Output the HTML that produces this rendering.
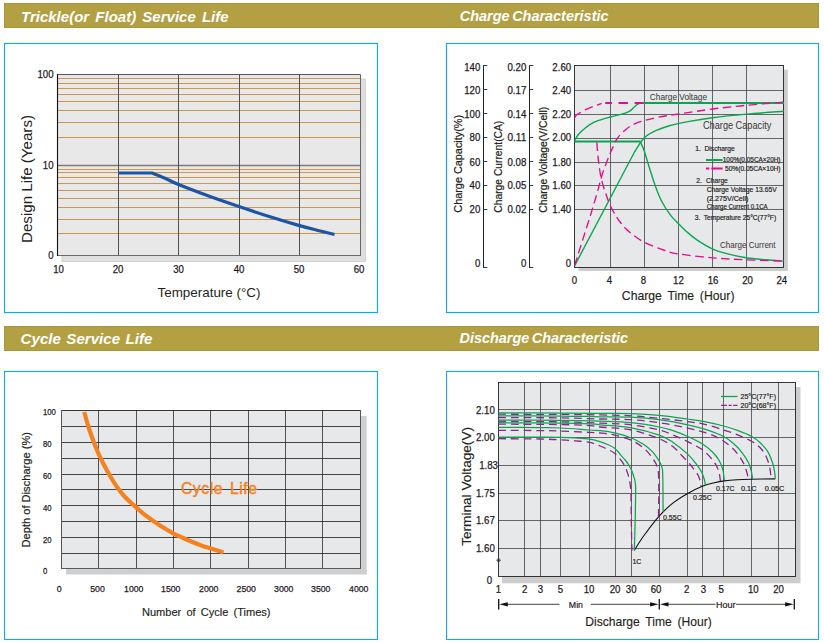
<!DOCTYPE html>
<html><head><meta charset="utf-8"><title>Battery characteristics</title>
<style>
html,body{margin:0;padding:0;background:#fff;}
body{width:824px;height:643px;overflow:hidden;font-family:"Liberation Sans",sans-serif;}
svg{display:block}
svg text{font-family:"Liberation Sans",sans-serif;}
</style></head><body>
<svg width="824" height="643" viewBox="0 0 824 643">
<rect x="4.50" y="3.50" width="814.00" height="24.00" fill="#b3a043" stroke="#a8963a" stroke-width="1"/>
<rect x="4.50" y="326.50" width="814.00" height="24.00" fill="#b3a043" stroke="#a8963a" stroke-width="1"/>
<text x="21.00" y="21.94" font-size="15.2" fill="#fff" textLength="207.60" lengthAdjust="spacingAndGlyphs" font-weight="bold" font-style="italic" word-spacing="2">Trickle(or Float) Service Life</text>
<text x="459.80" y="20.74" font-size="15.2" fill="#fff" textLength="148.70" lengthAdjust="spacingAndGlyphs" font-weight="bold" font-style="italic" word-spacing="-1.5">Charge Characteristic</text>
<text x="20.60" y="344.14" font-size="15.2" fill="#fff" textLength="131.80" lengthAdjust="spacingAndGlyphs" font-weight="bold" font-style="italic" word-spacing="1.2">Cycle Service Life</text>
<text x="459.50" y="343.34" font-size="15.2" fill="#fff" textLength="168.50" lengthAdjust="spacingAndGlyphs" font-weight="bold" font-style="italic" word-spacing="-1.5">Discharge Characteristic</text>
<rect x="4.50" y="43.50" width="373.00" height="269.00" fill="none" stroke="#08adee" stroke-width="1.15"/>
<rect x="446.50" y="43.50" width="372.00" height="269.00" fill="none" stroke="#08adee" stroke-width="1.15"/>
<rect x="4.50" y="371.50" width="373.00" height="268.00" fill="none" stroke="#08adee" stroke-width="1.1"/>
<rect x="446.50" y="371.50" width="372.00" height="268.00" fill="none" stroke="#08adee" stroke-width="1.1"/>
<rect x="62.00" y="79.00" width="303.60" height="182.50" fill="#dfdfdf" stroke="#c6c6c6" stroke-width="0.7"/>
<rect x="57.50" y="74.50" width="303.00" height="181.00" fill="#e8e8e8"/>
<line x1="57.50" y1="78.50" x2="360.50" y2="78.50" stroke="#c98f3a" stroke-width="0.9"/>
<line x1="57.50" y1="83.50" x2="360.50" y2="83.50" stroke="#c98f3a" stroke-width="0.9"/>
<line x1="57.50" y1="88.50" x2="360.50" y2="88.50" stroke="#c98f3a" stroke-width="0.9"/>
<line x1="57.50" y1="94.50" x2="360.50" y2="94.50" stroke="#c98f3a" stroke-width="0.9"/>
<line x1="57.50" y1="101.50" x2="360.50" y2="101.50" stroke="#c98f3a" stroke-width="0.9"/>
<line x1="57.50" y1="110.50" x2="360.50" y2="110.50" stroke="#c98f3a" stroke-width="0.9"/>
<line x1="57.50" y1="122.50" x2="360.50" y2="122.50" stroke="#c98f3a" stroke-width="0.9"/>
<line x1="57.50" y1="137.50" x2="360.50" y2="137.50" stroke="#c98f3a" stroke-width="0.9"/>
<line x1="57.50" y1="169.50" x2="360.50" y2="169.50" stroke="#c98f3a" stroke-width="0.9"/>
<line x1="57.50" y1="172.50" x2="360.50" y2="172.50" stroke="#c98f3a" stroke-width="0.9"/>
<line x1="57.50" y1="177.50" x2="360.50" y2="177.50" stroke="#c98f3a" stroke-width="0.9"/>
<line x1="57.50" y1="183.50" x2="360.50" y2="183.50" stroke="#c98f3a" stroke-width="0.9"/>
<line x1="57.50" y1="190.50" x2="360.50" y2="190.50" stroke="#c98f3a" stroke-width="0.9"/>
<line x1="57.50" y1="198.50" x2="360.50" y2="198.50" stroke="#c98f3a" stroke-width="0.9"/>
<line x1="57.50" y1="207.50" x2="360.50" y2="207.50" stroke="#c98f3a" stroke-width="0.9"/>
<line x1="57.50" y1="219.50" x2="360.50" y2="219.50" stroke="#c98f3a" stroke-width="0.9"/>
<line x1="57.50" y1="233.50" x2="360.50" y2="233.50" stroke="#c98f3a" stroke-width="0.9"/>
<line x1="57.50" y1="165.50" x2="360.50" y2="165.50" stroke="#7c7c7c" stroke-width="1.4"/>
<line x1="118.50" y1="74.50" x2="118.50" y2="255.50" stroke="#505050" stroke-width="1.05"/>
<line x1="178.50" y1="74.50" x2="178.50" y2="255.50" stroke="#505050" stroke-width="1.05"/>
<line x1="239.50" y1="74.50" x2="239.50" y2="255.50" stroke="#505050" stroke-width="1.05"/>
<line x1="299.50" y1="74.50" x2="299.50" y2="255.50" stroke="#505050" stroke-width="1.05"/>
<line x1="360.50" y1="74.50" x2="360.50" y2="255.50" stroke="#666" stroke-width="1"/>
<line x1="57.50" y1="74.50" x2="360.50" y2="74.50" stroke="#444" stroke-width="0.9"/>
<line x1="57.00" y1="255.50" x2="361.00" y2="255.50" stroke="#6a6a6a" stroke-width="1.1"/>
<line x1="57.50" y1="74.10" x2="57.50" y2="256.00" stroke="#111" stroke-width="1.1"/>
<path d="M118,173 L151.75,173 C153.96,173.87 160.54,176.27 165.00,178.20 C169.46,180.13 171.33,181.67 178.50,184.60 C185.67,187.53 197.92,192.13 208.00,195.80 C218.08,199.47 228.67,203.10 239.00,206.60 C249.33,210.10 259.92,213.63 270.00,216.80 C280.08,219.97 291.67,223.37 299.50,225.60 C307.33,227.83 311.17,228.72 317.00,230.20 C322.83,231.68 331.58,233.78 334.50,234.50" fill="none" stroke="#1c55a6" stroke-width="3.2" stroke-linejoin="round"/>
<text x="37.45" y="78.32" font-size="10.4" fill="#1d1a1f" textLength="16.05" lengthAdjust="spacingAndGlyphs" stroke="#1d1a1f" stroke-width="0.25">100</text>
<text x="42.80" y="168.92" font-size="10.4" fill="#1d1a1f" textLength="10.70" lengthAdjust="spacingAndGlyphs" stroke="#1d1a1f" stroke-width="0.25">10</text>
<text x="48.15" y="259.22" font-size="10.4" fill="#1d1a1f" stroke="#1d1a1f" stroke-width="0.25" transform="translate(48.15 0) scale(0.925 1) translate(-48.15 0)">0</text>
<text x="53.15" y="273.12" font-size="10.4" fill="#1d1a1f" textLength="10.70" lengthAdjust="spacingAndGlyphs" stroke="#1d1a1f" stroke-width="0.25">10</text>
<text x="112.65" y="273.12" font-size="10.4" fill="#1d1a1f" textLength="10.70" lengthAdjust="spacingAndGlyphs" stroke="#1d1a1f" stroke-width="0.25">20</text>
<text x="173.15" y="273.12" font-size="10.4" fill="#1d1a1f" textLength="10.70" lengthAdjust="spacingAndGlyphs" stroke="#1d1a1f" stroke-width="0.25">30</text>
<text x="233.65" y="273.12" font-size="10.4" fill="#1d1a1f" textLength="10.70" lengthAdjust="spacingAndGlyphs" stroke="#1d1a1f" stroke-width="0.25">40</text>
<text x="293.65" y="273.12" font-size="10.4" fill="#1d1a1f" textLength="10.70" lengthAdjust="spacingAndGlyphs" stroke="#1d1a1f" stroke-width="0.25">50</text>
<text x="353.65" y="273.12" font-size="10.4" fill="#1d1a1f" textLength="10.70" lengthAdjust="spacingAndGlyphs" stroke="#1d1a1f" stroke-width="0.25">60</text>
<text x="157.50" y="296.95" font-size="13" fill="#231f20" textLength="103.00" lengthAdjust="spacingAndGlyphs">Temperature (°C)</text>
<text x="0" y="5.01" font-size="14" fill="#231f20" textLength="128.00" lengthAdjust="spacingAndGlyphs" transform="translate(27.00 243.00) rotate(-90)">Design Life (Years)</text>
<rect x="66.00" y="416.00" width="300.75" height="158.50" fill="#cfcfcf"/>
<rect x="61.50" y="410.50" width="299.00" height="158.00" fill="#e7e8e9"/>
<line x1="98.50" y1="410.50" x2="98.50" y2="568.50" stroke="#4a4a4a" stroke-width="0.95"/>
<line x1="136.50" y1="410.50" x2="136.50" y2="568.50" stroke="#4a4a4a" stroke-width="0.95"/>
<line x1="173.50" y1="410.50" x2="173.50" y2="568.50" stroke="#4a4a4a" stroke-width="0.95"/>
<line x1="210.50" y1="410.50" x2="210.50" y2="568.50" stroke="#4a4a4a" stroke-width="0.95"/>
<line x1="248.50" y1="410.50" x2="248.50" y2="568.50" stroke="#4a4a4a" stroke-width="0.95"/>
<line x1="285.50" y1="410.50" x2="285.50" y2="568.50" stroke="#4a4a4a" stroke-width="0.95"/>
<line x1="322.50" y1="410.50" x2="322.50" y2="568.50" stroke="#4a4a4a" stroke-width="0.95"/>
<line x1="61.50" y1="426.50" x2="360.50" y2="426.50" stroke="#1a1a1a" stroke-width="0.8"/>
<line x1="61.50" y1="442.50" x2="360.50" y2="442.50" stroke="#1a1a1a" stroke-width="0.8"/>
<line x1="61.50" y1="458.50" x2="360.50" y2="458.50" stroke="#1a1a1a" stroke-width="0.8"/>
<line x1="61.50" y1="474.50" x2="360.50" y2="474.50" stroke="#1a1a1a" stroke-width="0.8"/>
<line x1="61.50" y1="489.50" x2="360.50" y2="489.50" stroke="#1a1a1a" stroke-width="0.8"/>
<line x1="61.50" y1="505.50" x2="360.50" y2="505.50" stroke="#1a1a1a" stroke-width="0.8"/>
<line x1="61.50" y1="521.50" x2="360.50" y2="521.50" stroke="#1a1a1a" stroke-width="0.8"/>
<line x1="61.50" y1="537.50" x2="360.50" y2="537.50" stroke="#1a1a1a" stroke-width="0.8"/>
<line x1="61.50" y1="553.50" x2="360.50" y2="553.50" stroke="#1a1a1a" stroke-width="0.8"/>
<line x1="61.50" y1="410.50" x2="360.50" y2="410.50" stroke="#222" stroke-width="0.9"/>
<line x1="61.50" y1="568.50" x2="360.50" y2="568.50" stroke="#5a5a5a" stroke-width="1"/>
<line x1="61.50" y1="410.10" x2="61.50" y2="568.90" stroke="#555" stroke-width="1"/>
<line x1="360.50" y1="410.10" x2="360.50" y2="568.90" stroke="#555" stroke-width="1"/>
<text x="43.00" y="414.72" font-size="9" fill="#1d1a1f" textLength="12.90" lengthAdjust="spacingAndGlyphs" stroke="#1d1a1f" stroke-width="0.25">100</text>
<text x="43.00" y="446.82" font-size="9" fill="#1d1a1f" textLength="8.60" lengthAdjust="spacingAndGlyphs" stroke="#1d1a1f" stroke-width="0.25">80</text>
<text x="43.00" y="478.52" font-size="9" fill="#1d1a1f" textLength="8.60" lengthAdjust="spacingAndGlyphs" stroke="#1d1a1f" stroke-width="0.25">60</text>
<text x="43.00" y="510.82" font-size="9" fill="#1d1a1f" textLength="8.60" lengthAdjust="spacingAndGlyphs" stroke="#1d1a1f" stroke-width="0.25">40</text>
<text x="43.00" y="542.92" font-size="9" fill="#1d1a1f" textLength="8.60" lengthAdjust="spacingAndGlyphs" stroke="#1d1a1f" stroke-width="0.25">20</text>
<text x="43.00" y="574.02" font-size="9" fill="#1d1a1f" stroke="#1d1a1f" stroke-width="0.25" transform="translate(43.00 0) scale(0.859 1) translate(-43.00 0)">0</text>
<text x="56.83" y="592.29" font-size="9.2" fill="#1d1a1f" stroke="#1d1a1f" stroke-width="0.25" transform="translate(56.83 0) scale(0.948 1) translate(-56.83 0)">0</text>
<text x="90.22" y="592.29" font-size="9.2" fill="#1d1a1f" textLength="14.55" lengthAdjust="spacingAndGlyphs" stroke="#1d1a1f" stroke-width="0.25">500</text>
<text x="124.05" y="592.29" font-size="9.2" fill="#1d1a1f" textLength="19.40" lengthAdjust="spacingAndGlyphs" stroke="#1d1a1f" stroke-width="0.25">1000</text>
<text x="161.05" y="592.29" font-size="9.2" fill="#1d1a1f" textLength="19.40" lengthAdjust="spacingAndGlyphs" stroke="#1d1a1f" stroke-width="0.25">1500</text>
<text x="199.05" y="592.29" font-size="9.2" fill="#1d1a1f" textLength="19.40" lengthAdjust="spacingAndGlyphs" stroke="#1d1a1f" stroke-width="0.25">2000</text>
<text x="236.55" y="592.29" font-size="9.2" fill="#1d1a1f" textLength="19.40" lengthAdjust="spacingAndGlyphs" stroke="#1d1a1f" stroke-width="0.25">2500</text>
<text x="274.05" y="592.29" font-size="9.2" fill="#1d1a1f" textLength="19.40" lengthAdjust="spacingAndGlyphs" stroke="#1d1a1f" stroke-width="0.25">3000</text>
<text x="311.05" y="592.29" font-size="9.2" fill="#1d1a1f" textLength="19.40" lengthAdjust="spacingAndGlyphs" stroke="#1d1a1f" stroke-width="0.25">3500</text>
<text x="349.05" y="592.29" font-size="9.2" fill="#1d1a1f" textLength="19.40" lengthAdjust="spacingAndGlyphs" stroke="#1d1a1f" stroke-width="0.25">4000</text>
<text x="142.00" y="615.87" font-size="10.8" fill="#231f20" textLength="128.50" lengthAdjust="spacingAndGlyphs" word-spacing="2" stroke="#231f20" stroke-width="0.15">Number of Cycle (Times)</text>
<text x="0" y="3.87" font-size="10.8" fill="#231f20" textLength="115.50" lengthAdjust="spacingAndGlyphs" stroke="#231f20" stroke-width="0.2" transform="translate(26.30 547.50) rotate(-90)">Depth of Discharge (%)</text>
<text x="181" y="494.4" font-size="15.6" fill="#f58220" stroke="#f58220" stroke-width="0.45" textLength="76" lengthAdjust="spacing" word-spacing="2">Cycle Life</text>
<path d="M84.25,412.00 C84.96,414.50 86.92,422.00 88.50,427.00 C90.08,432.00 92.17,437.75 93.75,442.00 C95.33,446.25 96.54,449.17 98.00,452.50 C99.46,455.83 100.95,458.92 102.50,462.00 C104.05,465.08 105.63,468.00 107.30,471.00 C108.97,474.00 110.63,477.00 112.50,480.00 C114.37,483.00 116.42,486.17 118.50,489.00 C120.58,491.83 122.04,493.92 125.00,497.00 C127.96,500.08 132.92,504.50 136.25,507.50 C139.58,510.50 141.88,512.58 145.00,515.00 C148.12,517.42 151.83,519.83 155.00,522.00 C158.17,524.17 160.96,526.12 164.00,528.00 C167.04,529.88 170.25,531.72 173.25,533.30 C176.25,534.88 179.21,536.22 182.00,537.50 C184.79,538.78 187.00,539.75 190.00,541.00 C193.00,542.25 196.67,543.78 200.00,545.00 C203.33,546.22 206.08,547.05 210.00,548.30 C213.92,549.55 221.25,551.80 223.50,552.50" fill="none" stroke="#f58220" stroke-width="4.2"/>
<rect x="578.50" y="69.50" width="209.30" height="201.50" fill="#cdcdcd"/>
<rect x="574.50" y="65.50" width="209.00" height="202.00" fill="#e7e8e9"/>
<line x1="610.50" y1="65.50" x2="610.50" y2="267.50" stroke="#3a3a3a" stroke-width="0.75"/>
<line x1="644.50" y1="65.50" x2="644.50" y2="267.50" stroke="#3a3a3a" stroke-width="0.75"/>
<line x1="678.50" y1="65.50" x2="678.50" y2="267.50" stroke="#3a3a3a" stroke-width="0.75"/>
<line x1="712.50" y1="65.50" x2="712.50" y2="267.50" stroke="#3a3a3a" stroke-width="0.75"/>
<line x1="746.50" y1="65.50" x2="746.50" y2="267.50" stroke="#3a3a3a" stroke-width="0.75"/>
<line x1="574.50" y1="90.50" x2="783.50" y2="90.50" stroke="#3a3a3a" stroke-width="0.75"/>
<line x1="574.50" y1="114.50" x2="783.50" y2="114.50" stroke="#3a3a3a" stroke-width="0.75"/>
<line x1="574.50" y1="138.50" x2="783.50" y2="138.50" stroke="#3a3a3a" stroke-width="0.75"/>
<line x1="574.50" y1="162.50" x2="783.50" y2="162.50" stroke="#3a3a3a" stroke-width="0.75"/>
<line x1="574.50" y1="185.50" x2="783.50" y2="185.50" stroke="#3a3a3a" stroke-width="0.75"/>
<line x1="574.50" y1="209.50" x2="783.50" y2="209.50" stroke="#3a3a3a" stroke-width="0.75"/>
<rect x="574.50" y="65.50" width="209.00" height="202.00" fill="none" stroke="#222" stroke-width="0.9"/>
<line x1="483.50" y1="65.10" x2="483.50" y2="267.90" stroke="#222" stroke-width="1"/>
<line x1="483.50" y1="65.50" x2="487.30" y2="65.50" stroke="#222" stroke-width="0.9"/>
<line x1="483.50" y1="89.50" x2="487.30" y2="89.50" stroke="#222" stroke-width="0.9"/>
<line x1="483.50" y1="113.50" x2="487.30" y2="113.50" stroke="#222" stroke-width="0.9"/>
<line x1="483.50" y1="137.50" x2="487.30" y2="137.50" stroke="#222" stroke-width="0.9"/>
<line x1="483.50" y1="161.50" x2="487.30" y2="161.50" stroke="#222" stroke-width="0.9"/>
<line x1="483.50" y1="185.50" x2="487.30" y2="185.50" stroke="#222" stroke-width="0.9"/>
<line x1="483.50" y1="209.50" x2="487.30" y2="209.50" stroke="#222" stroke-width="0.9"/>
<line x1="483.50" y1="267.50" x2="487.30" y2="267.50" stroke="#222" stroke-width="0.9"/>
<line x1="529.50" y1="65.10" x2="529.50" y2="267.90" stroke="#222" stroke-width="1"/>
<line x1="529.50" y1="65.50" x2="533.30" y2="65.50" stroke="#222" stroke-width="0.9"/>
<line x1="529.50" y1="89.50" x2="533.30" y2="89.50" stroke="#222" stroke-width="0.9"/>
<line x1="529.50" y1="113.50" x2="533.30" y2="113.50" stroke="#222" stroke-width="0.9"/>
<line x1="529.50" y1="137.50" x2="533.30" y2="137.50" stroke="#222" stroke-width="0.9"/>
<line x1="529.50" y1="161.50" x2="533.30" y2="161.50" stroke="#222" stroke-width="0.9"/>
<line x1="529.50" y1="185.50" x2="533.30" y2="185.50" stroke="#222" stroke-width="0.9"/>
<line x1="529.50" y1="209.50" x2="533.30" y2="209.50" stroke="#222" stroke-width="0.9"/>
<line x1="529.50" y1="267.50" x2="533.30" y2="267.50" stroke="#222" stroke-width="0.9"/>
<text x="464.25" y="71.22" font-size="10.4" fill="#1d1a1f" textLength="16.05" lengthAdjust="spacingAndGlyphs" stroke="#1d1a1f" stroke-width="0.25">140</text>
<text x="464.25" y="93.92" font-size="10.4" fill="#1d1a1f" textLength="16.05" lengthAdjust="spacingAndGlyphs" stroke="#1d1a1f" stroke-width="0.25">120</text>
<text x="464.25" y="118.02" font-size="10.4" fill="#1d1a1f" textLength="16.05" lengthAdjust="spacingAndGlyphs" stroke="#1d1a1f" stroke-width="0.25">100</text>
<text x="469.60" y="141.42" font-size="10.4" fill="#1d1a1f" textLength="10.70" lengthAdjust="spacingAndGlyphs" stroke="#1d1a1f" stroke-width="0.25">80</text>
<text x="469.60" y="165.92" font-size="10.4" fill="#1d1a1f" textLength="10.70" lengthAdjust="spacingAndGlyphs" stroke="#1d1a1f" stroke-width="0.25">60</text>
<text x="469.60" y="189.32" font-size="10.4" fill="#1d1a1f" textLength="10.70" lengthAdjust="spacingAndGlyphs" stroke="#1d1a1f" stroke-width="0.25">40</text>
<text x="469.60" y="213.32" font-size="10.4" fill="#1d1a1f" textLength="10.70" lengthAdjust="spacingAndGlyphs" stroke="#1d1a1f" stroke-width="0.25">20</text>
<text x="474.95" y="267.02" font-size="10.4" fill="#1d1a1f" stroke="#1d1a1f" stroke-width="0.25" transform="translate(474.95 0) scale(0.925 1) translate(-474.95 0)">0</text>
<text x="507.45" y="71.22" font-size="10.4" fill="#1d1a1f" textLength="18.85" lengthAdjust="spacingAndGlyphs" stroke="#1d1a1f" stroke-width="0.25">0.20</text>
<text x="507.45" y="93.92" font-size="10.4" fill="#1d1a1f" textLength="18.85" lengthAdjust="spacingAndGlyphs" stroke="#1d1a1f" stroke-width="0.25">0.17</text>
<text x="507.45" y="118.02" font-size="10.4" fill="#1d1a1f" textLength="18.85" lengthAdjust="spacingAndGlyphs" stroke="#1d1a1f" stroke-width="0.25">0.14</text>
<text x="507.45" y="141.42" font-size="10.4" fill="#1d1a1f" textLength="18.85" lengthAdjust="spacingAndGlyphs" stroke="#1d1a1f" stroke-width="0.25">0.11</text>
<text x="507.45" y="165.92" font-size="10.4" fill="#1d1a1f" textLength="18.85" lengthAdjust="spacingAndGlyphs" stroke="#1d1a1f" stroke-width="0.25">0.08</text>
<text x="507.45" y="189.32" font-size="10.4" fill="#1d1a1f" textLength="18.85" lengthAdjust="spacingAndGlyphs" stroke="#1d1a1f" stroke-width="0.25">0.05</text>
<text x="507.45" y="213.32" font-size="10.4" fill="#1d1a1f" textLength="18.85" lengthAdjust="spacingAndGlyphs" stroke="#1d1a1f" stroke-width="0.25">0.02</text>
<text x="520.95" y="267.02" font-size="10.4" fill="#1d1a1f" stroke="#1d1a1f" stroke-width="0.25" transform="translate(520.95 0) scale(0.925 1) translate(-520.95 0)">0</text>
<text x="552.35" y="71.22" font-size="10.4" fill="#1d1a1f" textLength="18.85" lengthAdjust="spacingAndGlyphs" stroke="#1d1a1f" stroke-width="0.25">2.60</text>
<text x="552.35" y="93.92" font-size="10.4" fill="#1d1a1f" textLength="18.85" lengthAdjust="spacingAndGlyphs" stroke="#1d1a1f" stroke-width="0.25">2.40</text>
<text x="552.35" y="118.02" font-size="10.4" fill="#1d1a1f" textLength="18.85" lengthAdjust="spacingAndGlyphs" stroke="#1d1a1f" stroke-width="0.25">2.20</text>
<text x="552.35" y="141.42" font-size="10.4" fill="#1d1a1f" textLength="18.85" lengthAdjust="spacingAndGlyphs" stroke="#1d1a1f" stroke-width="0.25">2.00</text>
<text x="552.35" y="165.92" font-size="10.4" fill="#1d1a1f" textLength="18.85" lengthAdjust="spacingAndGlyphs" stroke="#1d1a1f" stroke-width="0.25">1.80</text>
<text x="552.35" y="189.32" font-size="10.4" fill="#1d1a1f" textLength="18.85" lengthAdjust="spacingAndGlyphs" stroke="#1d1a1f" stroke-width="0.25">1.60</text>
<text x="552.35" y="213.32" font-size="10.4" fill="#1d1a1f" textLength="18.85" lengthAdjust="spacingAndGlyphs" stroke="#1d1a1f" stroke-width="0.25">1.40</text>
<text x="565.85" y="267.02" font-size="10.4" fill="#1d1a1f" stroke="#1d1a1f" stroke-width="0.25" transform="translate(565.85 0) scale(0.925 1) translate(-565.85 0)">0</text>
<text x="571.83" y="284.12" font-size="10.4" fill="#1d1a1f" stroke="#1d1a1f" stroke-width="0.25" transform="translate(571.83 0) scale(0.925 1) translate(-571.83 0)">0</text>
<text x="606.83" y="284.12" font-size="10.4" fill="#1d1a1f" stroke="#1d1a1f" stroke-width="0.25" transform="translate(606.83 0) scale(0.925 1) translate(-606.83 0)">4</text>
<text x="640.83" y="284.12" font-size="10.4" fill="#1d1a1f" stroke="#1d1a1f" stroke-width="0.25" transform="translate(640.83 0) scale(0.925 1) translate(-640.83 0)">8</text>
<text x="673.05" y="284.12" font-size="10.4" fill="#1d1a1f" textLength="10.70" lengthAdjust="spacingAndGlyphs" stroke="#1d1a1f" stroke-width="0.25">12</text>
<text x="707.65" y="284.12" font-size="10.4" fill="#1d1a1f" textLength="10.70" lengthAdjust="spacingAndGlyphs" stroke="#1d1a1f" stroke-width="0.25">16</text>
<text x="742.15" y="284.12" font-size="10.4" fill="#1d1a1f" textLength="10.70" lengthAdjust="spacingAndGlyphs" stroke="#1d1a1f" stroke-width="0.25">20</text>
<text x="776.45" y="284.12" font-size="10.4" fill="#1d1a1f" textLength="10.70" lengthAdjust="spacingAndGlyphs" stroke="#1d1a1f" stroke-width="0.25">24</text>
<text x="621.80" y="300.11" font-size="12.6" fill="#231f20" textLength="112.70" lengthAdjust="spacingAndGlyphs" word-spacing="2.4" stroke="#231f20" stroke-width="0.15">Charge Time (Hour)</text>
<text x="0" y="3.58" font-size="10" fill="#231f20" textLength="97.80" lengthAdjust="spacingAndGlyphs" stroke="#231f20" stroke-width="0.2" transform="translate(458.20 212.70) rotate(-90)">Charge Capacity(%)</text>
<text x="0" y="3.58" font-size="10" fill="#231f20" textLength="92.00" lengthAdjust="spacingAndGlyphs" stroke="#231f20" stroke-width="0.2" transform="translate(498.50 212.70) rotate(-90)">Charge Current(CA)</text>
<text x="0" y="3.58" font-size="10" fill="#231f20" textLength="106.00" lengthAdjust="spacingAndGlyphs" stroke="#231f20" stroke-width="0.2" transform="translate(543.40 212.70) rotate(-90)">Charge Voltage(V/Cell)</text>
<path d="M574.6,265.8 L634.5,152 L634.50,152.00 C635.52,150.40 639.00,144.73 640.60,142.40 C642.20,140.07 642.70,139.37 644.10,138.00 C645.50,136.63 647.07,135.43 649.00,134.20 C650.93,132.97 652.15,132.05 655.70,130.60 C659.25,129.15 664.92,127.00 670.30,125.50 C675.68,124.00 680.98,122.90 688.00,121.60 C695.02,120.30 702.63,118.95 712.40,117.70 C722.17,116.45 734.70,115.18 746.60,114.10 C758.50,113.02 777.60,111.68 783.80,111.20" fill="none" stroke="#0aa651" stroke-width="1.4"/>
<path d="M574.6,141.5 L640.6,141.5" fill="none" stroke="#0aa651" stroke-width="2"/>
<path d="M640.60,142.40 C641.18,143.75 642.92,147.20 644.10,150.50 C645.28,153.80 646.50,158.32 647.70,162.20 C648.90,166.08 649.97,169.67 651.30,173.80 C652.63,177.93 654.00,182.47 655.70,187.00 C657.40,191.53 659.07,196.37 661.50,201.00 C663.93,205.63 667.50,211.05 670.30,214.80 C673.10,218.55 675.52,220.63 678.30,223.50 C681.08,226.37 683.90,229.28 687.00,232.00 C690.10,234.72 692.68,237.00 696.90,239.80 C701.12,242.60 707.15,246.45 712.30,248.80 C717.45,251.15 722.13,252.40 727.80,253.90 C733.47,255.40 739.87,256.82 746.30,257.80 C752.73,258.78 760.13,259.25 766.40,259.80 C772.67,260.35 780.98,260.88 783.90,261.10" fill="none" stroke="#0aa651" stroke-width="1.4"/>
<path d="M574.60,140.40 C575.17,139.50 576.67,136.70 578.00,135.00 C579.33,133.30 580.62,131.93 582.60,130.20 C584.58,128.47 587.47,126.15 589.90,124.60 C592.33,123.05 593.77,122.17 597.20,120.90 C600.63,119.63 606.83,118.02 610.50,117.00 C614.17,115.98 616.53,115.52 619.20,114.80 C621.87,114.08 624.57,113.43 626.50,112.70 C628.43,111.97 629.47,111.40 630.80,110.40 C632.13,109.40 633.27,107.80 634.50,106.70 C635.73,105.60 636.73,104.42 638.20,103.80 C639.67,103.18 642.45,103.13 643.30,103.00" fill="none" stroke="#0aa651" stroke-width="1.4"/>
<path d="M643,103 L783.9,103" fill="none" stroke="#0aa651" stroke-width="2"/>
<path d="M574.60,265.50 C577.03,257.78 585.43,231.32 589.20,219.20 C592.97,207.08 595.08,200.08 597.20,192.80 C599.32,185.52 600.18,180.97 601.90,175.50 C603.62,170.03 605.73,164.58 607.50,160.00 C609.27,155.42 610.80,151.70 612.50,148.00 C614.20,144.30 615.37,140.98 617.70,137.80 C620.03,134.62 623.58,131.27 626.50,128.90 C629.42,126.53 632.27,124.97 635.20,123.60 C638.13,122.23 640.68,121.68 644.10,120.70 C647.52,119.72 651.33,118.62 655.70,117.70 C660.07,116.78 664.92,116.05 670.30,115.20 C675.68,114.35 680.98,113.63 688.00,112.60 C695.02,111.57 702.63,110.22 712.40,109.00 C722.17,107.78 734.70,106.45 746.60,105.30 C758.50,104.15 777.60,102.63 783.80,102.10" fill="none" stroke="#ea0a8c" stroke-width="1.35" stroke-dasharray="8.5 4.5"/>
<path d="M596.80,142.40 C597.00,144.72 597.57,152.03 598.00,156.30 C598.43,160.57 598.75,163.85 599.40,168.00 C600.05,172.15 600.80,176.82 601.90,181.20 C603.00,185.58 604.58,190.17 606.00,194.30 C607.42,198.43 608.70,202.35 610.40,206.00 C612.10,209.65 614.38,213.28 616.20,216.20 C618.02,219.12 619.00,220.78 621.30,223.50 C623.60,226.22 626.15,229.37 630.00,232.50 C633.85,235.63 638.82,239.38 644.40,242.30 C649.98,245.22 657.83,248.07 663.50,250.00 C669.17,251.93 670.27,252.60 678.40,253.90 C686.53,255.20 700.98,256.82 712.30,257.80 C723.62,258.78 734.37,259.25 746.30,259.80 C758.23,260.35 777.63,260.88 783.90,261.10" fill="none" stroke="#ea0a8c" stroke-width="1.35" stroke-dasharray="8.5 4.5"/>
<path d="M574.60,117.70 C574.97,117.22 574.98,116.13 576.80,114.80 C578.62,113.47 582.58,111.17 585.50,109.70 C588.42,108.23 591.62,107.05 594.30,106.00 C596.98,104.95 600.38,103.83 601.60,103.40" fill="none" stroke="#ea0a8c" stroke-width="1.35" stroke-dasharray="8.5 4.5"/>
<path d="M605.3,103 L643.3,103" fill="none" stroke="#ea0a8c" stroke-width="2" stroke-dasharray="6.6 6.6 9.5 6.6 9 0"/>
<text x="649.80" y="99.88" font-size="8.6" fill="#3a3534" textLength="57.20" lengthAdjust="spacingAndGlyphs">Charge Voltage</text>
<text x="703.00" y="128.58" font-size="10" fill="#3a3534" textLength="68.30" lengthAdjust="spacingAndGlyphs">Charge Capacity</text>
<text x="695.30" y="150.91" font-size="7" fill="#222" textLength="39.50" lengthAdjust="spacingAndGlyphs" stroke="#222" stroke-width="0.18" word-spacing="1.8">1. Discharge</text>
<line x1="706.00" y1="160.00" x2="722.60" y2="160.00" stroke="#0aa651" stroke-width="2"/>
<text x="722.80" y="161.66" font-size="6.6" fill="#222" textLength="57.70" lengthAdjust="spacingAndGlyphs" stroke="#222" stroke-width="0.18">100%(0.05CA×20H)</text>
<line x1="706.00" y1="168.60" x2="722.60" y2="168.60" stroke="#ea0a8c" stroke-width="2" stroke-dasharray="3.3 2 12 0"/>
<text x="725.00" y="170.66" font-size="6.6" fill="#222" textLength="55.50" lengthAdjust="spacingAndGlyphs" stroke="#222" stroke-width="0.18">50%(0.05CA×10H)</text>
<text x="696.20" y="183.11" font-size="7" fill="#222" textLength="31.60" lengthAdjust="spacingAndGlyphs" stroke="#222" stroke-width="0.18" word-spacing="2.5">2. Charge</text>
<text x="706.70" y="192.11" font-size="7" fill="#222" textLength="70.00" lengthAdjust="spacingAndGlyphs" stroke="#222" stroke-width="0.18">Charge Voltage 13.65V</text>
<text x="706.70" y="201.11" font-size="7" fill="#222" textLength="41.70" lengthAdjust="spacingAndGlyphs" stroke="#222" stroke-width="0.18">(2.275V/Cell)</text>
<text x="706.70" y="209.31" font-size="7" fill="#222" textLength="61.00" lengthAdjust="spacingAndGlyphs" stroke="#222" stroke-width="0.18">Charge Current 0.1CA</text>
<text x="694.80" y="219.61" font-size="7" fill="#222" textLength="81.30" lengthAdjust="spacingAndGlyphs" stroke="#222" stroke-width="0.18">3. Temperature 25°C(77°F)</text>
<text x="720.00" y="248.48" font-size="8.6" fill="#3a3534" textLength="55.60" lengthAdjust="spacingAndGlyphs">Charge Current</text>
<rect x="502.00" y="387.00" width="298.50" height="196.30" fill="#cdcdcd"/>
<rect x="498.50" y="382.50" width="297.00" height="194.00" fill="#e7e8e9"/>
<line x1="524.50" y1="382.50" x2="524.50" y2="576.50" stroke="#3a3a3a" stroke-width="0.75"/>
<line x1="540.50" y1="382.50" x2="540.50" y2="576.50" stroke="#3a3a3a" stroke-width="0.75"/>
<line x1="560.50" y1="382.50" x2="560.50" y2="576.50" stroke="#3a3a3a" stroke-width="0.75"/>
<line x1="589.50" y1="382.50" x2="589.50" y2="576.50" stroke="#3a3a3a" stroke-width="0.75"/>
<line x1="615.50" y1="382.50" x2="615.50" y2="576.50" stroke="#3a3a3a" stroke-width="0.75"/>
<line x1="631.50" y1="382.50" x2="631.50" y2="576.50" stroke="#3a3a3a" stroke-width="0.75"/>
<line x1="659.50" y1="382.50" x2="659.50" y2="576.50" stroke="#3a3a3a" stroke-width="0.75"/>
<line x1="687.50" y1="382.50" x2="687.50" y2="576.50" stroke="#3a3a3a" stroke-width="0.75"/>
<line x1="702.50" y1="382.50" x2="702.50" y2="576.50" stroke="#3a3a3a" stroke-width="0.75"/>
<line x1="723.50" y1="382.50" x2="723.50" y2="576.50" stroke="#3a3a3a" stroke-width="0.75"/>
<line x1="751.50" y1="382.50" x2="751.50" y2="576.50" stroke="#3a3a3a" stroke-width="0.75"/>
<line x1="778.50" y1="382.50" x2="778.50" y2="576.50" stroke="#3a3a3a" stroke-width="0.75"/>
<line x1="498.50" y1="409.50" x2="795.50" y2="409.50" stroke="#3a3a3a" stroke-width="0.75"/>
<line x1="498.50" y1="437.50" x2="795.50" y2="437.50" stroke="#3a3a3a" stroke-width="0.75"/>
<line x1="498.50" y1="465.50" x2="795.50" y2="465.50" stroke="#3a3a3a" stroke-width="0.75"/>
<line x1="498.50" y1="493.50" x2="795.50" y2="493.50" stroke="#3a3a3a" stroke-width="0.75"/>
<line x1="498.50" y1="520.50" x2="795.50" y2="520.50" stroke="#3a3a3a" stroke-width="0.75"/>
<line x1="498.50" y1="548.50" x2="795.50" y2="548.50" stroke="#3a3a3a" stroke-width="0.75"/>
<rect x="498.50" y="382.50" width="297.00" height="194.00" fill="none" stroke="#222" stroke-width="0.9"/>
<text x="475.95" y="414.22" font-size="10.4" fill="#1d1a1f" textLength="18.85" lengthAdjust="spacingAndGlyphs" stroke="#1d1a1f" stroke-width="0.25">2.10</text>
<text x="475.95" y="441.42" font-size="10.4" fill="#1d1a1f" textLength="18.85" lengthAdjust="spacingAndGlyphs" stroke="#1d1a1f" stroke-width="0.25">2.00</text>
<text x="479.15" y="469.22" font-size="10.4" fill="#1d1a1f" textLength="18.85" lengthAdjust="spacingAndGlyphs" stroke="#1d1a1f" stroke-width="0.25">1.83</text>
<text x="475.95" y="497.22" font-size="10.4" fill="#1d1a1f" textLength="18.85" lengthAdjust="spacingAndGlyphs" stroke="#1d1a1f" stroke-width="0.25">1.75</text>
<text x="475.95" y="524.42" font-size="10.4" fill="#1d1a1f" textLength="18.85" lengthAdjust="spacingAndGlyphs" stroke="#1d1a1f" stroke-width="0.25">1.67</text>
<text x="475.95" y="552.22" font-size="10.4" fill="#1d1a1f" textLength="18.85" lengthAdjust="spacingAndGlyphs" stroke="#1d1a1f" stroke-width="0.25">1.60</text>
<text x="486.65" y="584.02" font-size="10.4" fill="#1d1a1f" stroke="#1d1a1f" stroke-width="0.25" transform="translate(486.65 0) scale(0.925 1) translate(-486.65 0)">0</text>
<text x="495.82" y="593.32" font-size="10.4" fill="#1d1a1f" stroke="#1d1a1f" stroke-width="0.25" transform="translate(495.82 0) scale(0.925 1) translate(-495.82 0)">1</text>
<text x="522.12" y="593.32" font-size="10.4" fill="#1d1a1f" stroke="#1d1a1f" stroke-width="0.25" transform="translate(522.12 0) scale(0.925 1) translate(-522.12 0)">2</text>
<text x="537.83" y="593.32" font-size="10.4" fill="#1d1a1f" stroke="#1d1a1f" stroke-width="0.25" transform="translate(537.83 0) scale(0.925 1) translate(-537.83 0)">3</text>
<text x="557.83" y="593.32" font-size="10.4" fill="#1d1a1f" stroke="#1d1a1f" stroke-width="0.25" transform="translate(557.83 0) scale(0.925 1) translate(-557.83 0)">5</text>
<text x="583.65" y="593.32" font-size="10.4" fill="#1d1a1f" textLength="10.70" lengthAdjust="spacingAndGlyphs" stroke="#1d1a1f" stroke-width="0.25">10</text>
<text x="609.65" y="593.32" font-size="10.4" fill="#1d1a1f" textLength="10.70" lengthAdjust="spacingAndGlyphs" stroke="#1d1a1f" stroke-width="0.25">20</text>
<text x="625.85" y="593.32" font-size="10.4" fill="#1d1a1f" textLength="10.70" lengthAdjust="spacingAndGlyphs" stroke="#1d1a1f" stroke-width="0.25">30</text>
<text x="650.65" y="593.32" font-size="10.4" fill="#1d1a1f" textLength="10.70" lengthAdjust="spacingAndGlyphs" stroke="#1d1a1f" stroke-width="0.25">60</text>
<text x="684.12" y="593.32" font-size="10.4" fill="#1d1a1f" stroke="#1d1a1f" stroke-width="0.25" transform="translate(684.12 0) scale(0.925 1) translate(-684.12 0)">2</text>
<text x="700.83" y="593.32" font-size="10.4" fill="#1d1a1f" stroke="#1d1a1f" stroke-width="0.25" transform="translate(700.83 0) scale(0.925 1) translate(-700.83 0)">3</text>
<text x="718.62" y="593.32" font-size="10.4" fill="#1d1a1f" stroke="#1d1a1f" stroke-width="0.25" transform="translate(718.62 0) scale(0.925 1) translate(-718.62 0)">5</text>
<text x="747.95" y="593.32" font-size="10.4" fill="#1d1a1f" textLength="10.70" lengthAdjust="spacingAndGlyphs" stroke="#1d1a1f" stroke-width="0.25">10</text>
<text x="773.15" y="593.32" font-size="10.4" fill="#1d1a1f" textLength="10.70" lengthAdjust="spacingAndGlyphs" stroke="#1d1a1f" stroke-width="0.25">20</text>
<text x="585.30" y="626.11" font-size="12.6" fill="#231f20" textLength="126.50" lengthAdjust="spacingAndGlyphs" word-spacing="2.4" stroke="#231f20" stroke-width="0.15">Discharge Time (Hour)</text>
<text x="0" y="4.44" font-size="12.4" fill="#231f20" textLength="118.80" lengthAdjust="spacingAndGlyphs" stroke="#231f20" stroke-width="0.15" transform="translate(466.30 545.80) rotate(-90)">Terminal Voltage(V)</text>
<line x1="498.70" y1="599.00" x2="498.70" y2="609.60" stroke="#111" stroke-width="1.3"/>
<line x1="659.30" y1="599.00" x2="659.30" y2="609.60" stroke="#111" stroke-width="1.3"/>
<line x1="794.30" y1="599.00" x2="794.30" y2="609.60" stroke="#111" stroke-width="1.3"/>
<line x1="505.00" y1="604.30" x2="559.50" y2="604.30" stroke="#111" stroke-width="0.8"/>
<line x1="591.00" y1="604.30" x2="653.00" y2="604.30" stroke="#111" stroke-width="0.8"/>
<line x1="666.00" y1="604.30" x2="715.50" y2="604.30" stroke="#111" stroke-width="0.8"/>
<line x1="736.00" y1="604.30" x2="788.00" y2="604.30" stroke="#111" stroke-width="0.8"/>
<path d="M499.30,604.3 L507.80,602.1999999999999 L507.80,606.4Z" fill="#111"/>
<path d="M658.60,604.3 L650.10,602.1999999999999 L650.10,606.4Z" fill="#111"/>
<path d="M660.00,604.3 L668.50,602.1999999999999 L668.50,606.4Z" fill="#111"/>
<path d="M793.60,604.3 L785.10,602.1999999999999 L785.10,606.4Z" fill="#111"/>
<text x="568.80" y="607.52" font-size="9" fill="#222" textLength="14.20" lengthAdjust="spacingAndGlyphs" stroke="#222" stroke-width="0.18">Min</text>
<text x="716.00" y="607.52" font-size="9" fill="#222" textLength="19.50" lengthAdjust="spacingAndGlyphs" stroke="#222" stroke-width="0.18">Hour</text>
<line x1="496.40" y1="560.20" x2="500.80" y2="560.20" stroke="#222" stroke-width="0.9"/>
<line x1="497.40" y1="558.60" x2="499.60" y2="561.80" stroke="#222" stroke-width="0.7"/>
<line x1="499.60" y1="558.60" x2="497.40" y2="561.80" stroke="#222" stroke-width="0.7"/>
<line x1="721.00" y1="396.50" x2="737.50" y2="396.50" stroke="#0aa651" stroke-width="1.3"/>
<text x="740.50" y="399.25" font-size="7.4" fill="#222" textLength="35.50" lengthAdjust="spacingAndGlyphs" stroke="#222" stroke-width="0.18">25°C(77°F)</text>
<line x1="721.00" y1="405.30" x2="737.50" y2="405.30" stroke="#93218e" stroke-width="1.3" stroke-dasharray="6 1.6 3 1.6"/>
<text x="740.50" y="408.05" font-size="7.4" fill="#222" textLength="35.50" lengthAdjust="spacingAndGlyphs" stroke="#222" stroke-width="0.18">20°C(68°F)</text>
<text x="632.50" y="564.01" font-size="7" fill="#222" textLength="8.80" lengthAdjust="spacingAndGlyphs" stroke="#222" stroke-width="0.18">1C</text>
<text x="663.00" y="519.51" font-size="7" fill="#222" textLength="18.80" lengthAdjust="spacingAndGlyphs" stroke="#222" stroke-width="0.18">0.55C</text>
<text x="693.00" y="500.01" font-size="7" fill="#222" textLength="18.80" lengthAdjust="spacingAndGlyphs" stroke="#222" stroke-width="0.18">0.25C</text>
<text x="716.00" y="490.81" font-size="7" fill="#222" textLength="18.50" lengthAdjust="spacingAndGlyphs" stroke="#222" stroke-width="0.18">0.17C</text>
<text x="741.00" y="490.81" font-size="7" fill="#222" textLength="15.50" lengthAdjust="spacingAndGlyphs" stroke="#222" stroke-width="0.18">0.1C</text>
<text x="764.80" y="490.81" font-size="7" fill="#222" textLength="19.50" lengthAdjust="spacingAndGlyphs" stroke="#222" stroke-width="0.18">0.05C</text>
<path d="M634.30,550.40 C635.88,547.97 639.77,541.40 643.80,535.80 C647.83,530.20 653.62,522.28 658.50,516.80 C663.38,511.32 668.23,506.80 673.10,502.90 C677.97,499.00 682.83,496.17 687.70,493.40 C692.57,490.63 698.25,487.98 702.30,486.30 C706.35,484.62 708.33,484.20 712.00,483.30 C715.67,482.40 720.13,481.50 724.30,480.90 C728.47,480.30 732.48,479.98 737.00,479.70 C741.52,479.42 745.03,479.33 751.40,479.20 C757.77,479.07 771.23,478.95 775.20,478.90" fill="none" stroke="#111" stroke-width="1.1"/>
<path d="M498.40,438.70 C505.33,438.75 529.65,438.82 540.00,439.00 C550.35,439.18 554.67,439.50 560.50,439.80 C566.33,440.10 570.13,440.37 575.00,440.80 C579.87,441.23 585.53,441.53 589.70,442.40 C593.87,443.27 597.12,444.90 600.00,446.00 C602.88,447.10 604.57,447.78 607.00,449.00 C609.43,450.22 612.12,451.23 614.60,453.30 C617.08,455.37 619.95,458.72 621.90,461.40 C623.85,464.08 625.08,466.48 626.30,469.40 C627.52,472.32 628.50,475.97 629.20,478.90 C629.90,481.83 630.20,484.48 630.50,487.00 C630.80,489.52 630.87,488.50 631.00,494.00 C631.13,499.50 631.15,510.60 631.30,520.00 C631.45,529.40 631.80,545.33 631.90,550.40" fill="none" stroke="#93218e" stroke-width="1.3" stroke-dasharray="7.7 4.9"/>
<path d="M498.40,430.30 C505.33,430.35 529.65,430.48 540.00,430.60 C550.35,430.72 552.22,430.70 560.50,431.00 C568.78,431.30 583.12,432.07 589.70,432.40 C596.28,432.73 595.85,432.55 600.00,433.00 C604.15,433.45 609.37,433.90 614.60,435.10 C619.83,436.30 626.53,438.02 631.40,440.20 C636.27,442.38 640.50,445.52 643.80,448.20 C647.10,450.88 649.12,453.62 651.20,456.30 C653.28,458.98 655.17,462.02 656.30,464.30 C657.43,466.58 657.62,468.05 658.00,470.00 C658.38,471.95 658.47,472.08 658.60,476.00 C658.73,479.92 658.82,486.70 658.80,493.50 C658.78,500.30 658.55,512.92 658.50,516.80" fill="none" stroke="#93218e" stroke-width="1.3" stroke-dasharray="7.7 4.9"/>
<path d="M498.40,424.10 C508.75,424.18 545.28,424.35 560.50,424.60 C575.72,424.85 583.12,425.20 589.70,425.60 C596.28,426.00 593.05,426.27 600.00,427.00 C606.95,427.73 621.53,428.05 631.40,430.00 C641.27,431.95 652.25,435.90 659.20,438.70 C666.15,441.50 669.33,444.00 673.10,446.80 C676.87,449.60 678.98,452.58 681.80,455.50 C684.62,458.42 687.90,461.88 690.00,464.30 C692.10,466.72 693.07,468.22 694.40,470.00 C695.73,471.78 697.03,473.17 698.00,475.00 C698.97,476.83 699.70,479.13 700.20,481.00 C700.70,482.87 700.87,485.33 701.00,486.20" fill="none" stroke="#93218e" stroke-width="1.3" stroke-dasharray="7.7 4.9"/>
<path d="M498.40,421.20 C508.75,421.30 543.57,421.48 560.50,421.80 C577.43,422.12 588.18,422.60 600.00,423.10 C611.82,423.60 621.53,423.65 631.40,424.80 C641.27,425.95 652.25,428.28 659.20,430.00 C666.15,431.72 668.35,433.15 673.10,435.10 C677.85,437.05 682.93,439.33 687.70,441.70 C692.47,444.07 697.90,446.67 701.70,449.30 C705.50,451.93 708.07,454.80 710.50,457.50 C712.93,460.20 714.85,462.90 716.30,465.50 C717.75,468.10 718.52,470.50 719.20,473.10 C719.88,475.70 720.20,479.77 720.40,481.10" fill="none" stroke="#93218e" stroke-width="1.3" stroke-dasharray="7.7 4.9"/>
<path d="M498.40,417.50 C508.75,417.57 543.57,417.65 560.50,417.90 C577.43,418.15 588.18,418.70 600.00,419.00 C611.82,419.30 621.53,419.08 631.40,419.70 C641.27,420.32 649.82,421.28 659.20,422.70 C668.58,424.12 680.13,426.58 687.70,428.20 C695.27,429.82 699.35,430.70 704.60,432.40 C709.85,434.10 714.82,436.00 719.20,438.40 C723.58,440.80 727.73,444.07 730.90,446.80 C734.07,449.53 736.00,451.88 738.20,454.80 C740.40,457.72 742.63,461.25 744.10,464.30 C745.57,467.35 746.27,470.62 747.00,473.10 C747.73,475.58 748.25,478.18 748.50,479.20" fill="none" stroke="#93218e" stroke-width="1.3" stroke-dasharray="7.7 4.9"/>
<path d="M498.40,414.20 C508.75,414.23 543.57,414.28 560.50,414.40 C577.43,414.52 588.18,414.67 600.00,414.90 C611.82,415.13 621.53,415.23 631.40,415.80 C641.27,416.37 649.82,417.33 659.20,418.30 C668.58,419.27 680.13,420.60 687.70,421.60 C695.27,422.60 698.62,422.90 704.60,424.30 C710.58,425.70 718.00,428.20 723.60,430.00 C729.20,431.80 733.57,433.23 738.20,435.10 C742.83,436.97 747.73,439.08 751.40,441.20 C755.07,443.32 757.77,445.28 760.20,447.80 C762.63,450.32 764.42,453.07 766.00,456.30 C767.58,459.53 768.85,463.43 769.70,467.20 C770.55,470.97 770.87,476.95 771.10,478.90" fill="none" stroke="#93218e" stroke-width="1.3" stroke-dasharray="7.7 4.9"/>
<path d="M498.40,437.00 C505.33,437.02 529.65,437.03 540.00,437.10 C550.35,437.17 554.67,437.25 560.50,437.40 C566.33,437.55 570.13,437.70 575.00,438.00 C579.87,438.30 585.53,438.58 589.70,439.20 C593.87,439.82 597.12,440.85 600.00,441.70 C602.88,442.55 604.57,443.22 607.00,444.30 C609.43,445.38 612.12,446.20 614.60,448.20 C617.08,450.20 620.00,454.17 621.90,456.30 C623.80,458.43 624.78,459.42 626.00,461.00 C627.22,462.58 628.23,464.18 629.20,465.80 C630.17,467.42 631.07,469.00 631.80,470.70 C632.53,472.40 633.07,474.28 633.60,476.00 C634.13,477.72 634.67,479.33 635.00,481.00 C635.33,482.67 635.50,483.83 635.60,486.00 C635.70,488.17 635.67,488.33 635.60,494.00 C635.53,499.67 635.42,510.60 635.20,520.00 C634.98,529.40 634.45,545.33 634.30,550.40" fill="none" stroke="#0aa651" stroke-width="1.25"/>
<path d="M498.40,427.30 C505.33,427.35 529.65,427.48 540.00,427.60 C550.35,427.72 552.22,427.60 560.50,428.00 C568.78,428.40 583.12,429.57 589.70,430.00 C596.28,430.43 595.85,430.12 600.00,430.60 C604.15,431.08 609.37,431.67 614.60,432.90 C619.83,434.13 626.53,436.05 631.40,438.00 C636.27,439.95 640.27,442.28 643.80,444.60 C647.33,446.92 650.15,449.35 652.60,451.90 C655.05,454.45 657.07,457.72 658.50,459.90 C659.93,462.08 660.53,463.32 661.20,465.00 C661.87,466.68 662.22,467.20 662.50,470.00 C662.78,472.80 662.82,477.80 662.90,481.80 C662.98,485.80 662.97,489.02 663.00,494.00 C663.03,498.98 663.08,508.75 663.10,511.70" fill="none" stroke="#0aa651" stroke-width="1.25"/>
<path d="M498.40,422.70 C508.75,422.77 545.28,422.92 560.50,423.10 C575.72,423.28 583.12,423.52 589.70,423.80 C596.28,424.08 593.05,424.13 600.00,424.80 C606.95,425.47 621.53,426.08 631.40,427.80 C641.27,429.52 652.25,432.67 659.20,435.10 C666.15,437.53 668.35,439.23 673.10,442.40 C677.85,445.57 683.80,450.45 687.70,454.10 C691.60,457.75 694.28,461.48 696.50,464.30 C698.72,467.12 699.88,469.05 701.00,471.00 C702.12,472.95 702.60,474.42 703.20,476.00 C703.80,477.58 704.25,479.03 704.60,480.50 C704.95,481.97 705.18,484.08 705.30,484.80" fill="none" stroke="#0aa651" stroke-width="1.25"/>
<path d="M498.40,420.00 C508.75,420.05 543.57,420.10 560.50,420.30 C577.43,420.50 588.18,420.80 600.00,421.20 C611.82,421.60 621.53,421.73 631.40,422.70 C641.27,423.67 652.25,425.67 659.20,427.00 C666.15,428.33 668.35,429.12 673.10,430.70 C677.85,432.28 682.93,434.37 687.70,436.50 C692.47,438.63 697.67,441.00 701.70,443.50 C705.73,446.00 708.98,448.67 711.90,451.50 C714.82,454.33 717.37,457.38 719.20,460.50 C721.03,463.62 722.05,466.93 722.90,470.20 C723.75,473.47 724.07,478.45 724.30,480.10" fill="none" stroke="#0aa651" stroke-width="1.25"/>
<path d="M498.40,415.80 C508.75,415.83 543.57,415.83 560.50,416.00 C577.43,416.17 588.18,416.60 600.00,416.80 C611.82,417.00 621.53,416.72 631.40,417.20 C641.27,417.68 649.82,418.43 659.20,419.70 C668.58,420.97 680.13,423.22 687.70,424.80 C695.27,426.38 698.62,427.25 704.60,429.20 C710.58,431.15 718.73,434.07 723.60,436.50 C728.47,438.93 730.63,441.00 733.80,443.80 C736.97,446.60 740.15,450.13 742.60,453.30 C745.05,456.47 747.03,459.75 748.50,462.80 C749.97,465.85 750.72,468.87 751.40,471.60 C752.08,474.33 752.40,477.93 752.60,479.20" fill="none" stroke="#0aa651" stroke-width="1.25"/>
<path d="M498.40,412.90 C508.75,412.92 543.57,412.92 560.50,413.00 C577.43,413.08 588.18,413.30 600.00,413.40 C611.82,413.50 621.53,413.28 631.40,413.60 C641.27,413.92 649.82,414.40 659.20,415.30 C668.58,416.20 680.13,417.95 687.70,419.00 C695.27,420.05 698.62,420.43 704.60,421.60 C710.58,422.77 718.00,424.48 723.60,426.00 C729.20,427.52 733.57,428.98 738.20,430.70 C742.83,432.42 747.73,434.28 751.40,436.30 C755.07,438.32 757.52,440.32 760.20,442.80 C762.88,445.28 765.43,447.87 767.50,451.20 C769.57,454.53 771.38,459.15 772.60,462.80 C773.82,466.45 774.37,470.42 774.80,473.10 C775.23,475.78 775.13,477.93 775.20,478.90" fill="none" stroke="#0aa651" stroke-width="1.25"/>
</svg>
</body></html>
